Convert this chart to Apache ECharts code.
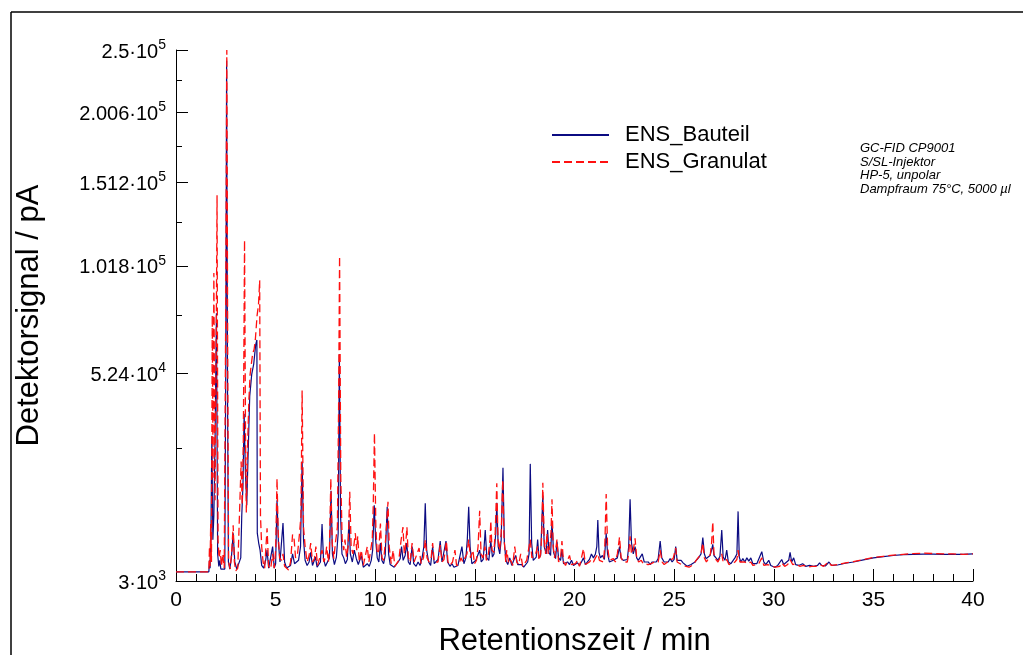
<!DOCTYPE html>
<html>
<head>
<meta charset="utf-8">
<script src="https://cdn.jsdelivr.net/npm/echarts@6/dist/echarts.min.js"></script>
<style>
html,body{margin:0;padding:0;background:#fff;}
#chart{width:1023px;height:655px;}
</style>
</head>
<body>
<div id="chart"></div>
<script>
// ---- data (time in min, signal in pA) ----
const seriesNames = ['ENS_Bauteil', 'ENS_Granulat'];

const bauteil = [
[0,3900],[1.65,3900],[1.68,5200],[1.71,4300],[1.75,8000],[1.8,31000],[1.85,8000],[1.9,12000],[1.96,30000],[2.03,78000],[2.09,6000],[2.15,4500],[2.2,5200],[2.25,4200],[2.35,4000],[2.45,4200],[2.5,60000],[2.54,241000],[2.59,40000],[2.63,5000],[2.7,4200],[2.78,5500],[2.87,9000],[2.95,5000],[3.05,4200],[3.15,4400],[3.25,5500],[3.3,12000],[3.36,18000],[3.42,38000],[3.48,22000],[3.55,14000],[3.62,26000],[3.7,44000],[3.8,52000],[3.9,56000],[4.0,64000],[4.06,66000],[4.08,9000],[4.15,7500],[4.22,6500],[4.3,4600],[4.4,4300],[4.5,5200],[4.57,6500],[4.65,4300],[4.75,4200],[4.85,7000],[4.93,4300],[5.0,4800],[5.07,15000],[5.14,7500],[5.22,5000],[5.3,4800],[5.37,10700],[5.45,5000],[5.55,4300],[5.65,4200],[5.75,4600],[5.85,6000],[5.95,4800],[6.05,4600],[6.15,5200],[6.25,7000],[6.33,24000],[6.4,8000],[6.48,5200],[6.58,4600],[6.68,5000],[6.76,6200],[6.85,4600],[6.95,4400],[7.0,5600],[7.08,4400],[7.18,4500],[7.25,5000],[7.33,10500],[7.4,5500],[7.5,4500],[7.6,4600],[7.7,5500],[7.78,17000],[7.85,6000],[7.95,4700],[8.05,5600],[8.14,9000],[8.2,60000],[8.26,12000],[8.33,6000],[8.42,5500],[8.5,4800],[8.6,5300],[8.68,11200],[8.75,6000],[8.85,5000],[8.95,6500],[9.05,5400],[9.15,4700],[9.3,5800],[9.4,4400],[9.5,4300],[9.6,4800],[9.7,4500],[9.8,5200],[9.87,6500],[9.95,14000],[10.02,8000],[10.1,5500],[10.18,5000],[10.26,7500],[10.33,5200],[10.42,4800],[10.5,5800],[10.6,13700],[10.67,6000],[10.75,4700],[10.85,4500],[10.95,4400],[11.05,4600],[11.15,5000],[11.25,5400],[11.32,7000],[11.4,5200],[11.5,5800],[11.58,7500],[11.66,5000],[11.75,4700],[11.85,7000],[11.93,4800],[12.05,4500],[12.15,5000],[12.25,4600],[12.35,5500],[12.44,7000],[12.51,14400],[12.58,6500],[12.68,5000],[12.78,4600],[12.88,7000],[12.96,4800],[13.05,4700],[13.15,5300],[13.26,7800],[13.35,5000],[13.45,5200],[13.55,7800],[13.63,5000],[13.75,4500],[13.85,4800],[13.95,4400],[14.05,4300],[14.15,4600],[14.25,4400],[14.35,7000],[14.45,4800],[14.55,5500],[14.62,8000],[14.69,13700],[14.76,7000],[14.85,4800],[14.95,4600],[15.05,5200],[15.15,5000],[15.24,6500],[15.32,5000],[15.42,5300],[15.52,9500],[15.6,5500],[15.7,5200],[15.8,7800],[15.88,5600],[15.96,6000],[16.05,9000],[16.1,14500],[16.17,7000],[16.25,6000],[16.32,8000],[16.41,22400],[16.48,7500],[16.56,5200],[16.65,4700],[16.75,5500],[16.85,4600],[16.95,5200],[17.05,5800],[17.15,4700],[17.25,4500],[17.35,4700],[17.45,4400],[17.55,4600],[17.65,5000],[17.72,6000],[17.78,23400],[17.85,7500],[17.93,5200],[18.0,5000],[18.08,5600],[18.15,8000],[18.22,5500],[18.3,5800],[18.41,16000],[18.48,7000],[18.58,6000],[18.65,9500],[18.72,6200],[18.8,5800],[18.87,11000],[18.95,6200],[19.05,5400],[19.12,7700],[19.2,5500],[19.3,5200],[19.37,6500],[19.45,4800],[19.55,4600],[19.65,5000],[19.75,4700],[19.85,5200],[19.95,4600],[20.05,4500],[20.15,4900],[20.25,4600],[20.35,5000],[20.45,5500],[20.55,4700],[20.65,5000],[20.75,5300],[20.85,6000],[20.95,5500],[21.05,6000],[21.12,7000],[21.17,11200],[21.23,6200],[21.3,5500],[21.4,5800],[21.5,5300],[21.59,9000],[21.66,6000],[21.75,5000],[21.85,4800],[21.95,5200],[22.05,5000],[22.15,5500],[22.26,7000],[22.33,5500],[22.45,5200],[22.55,5000],[22.65,5300],[22.72,7000],[22.79,15200],[22.86,7500],[22.95,6000],[23.04,7000],[23.12,5500],[23.2,5200],[23.3,5600],[23.4,6000],[23.5,5000],[23.6,4800],[23.7,5000],[23.8,4700],[23.9,5000],[24.0,5200],[24.1,5000],[24.2,5400],[24.3,7800],[24.38,5500],[24.5,5000],[24.6,4800],[24.7,5000],[24.8,5400],[24.9,5000],[25.0,5300],[25.08,7000],[25.15,5200],[25.25,5000],[25.35,5200],[25.45,4900],[25.55,4700],[25.65,4500],[25.75,4600],[25.85,4700],[25.95,4800],[26.05,5000],[26.15,5300],[26.25,5600],[26.35,6000],[26.44,8300],[26.52,6000],[26.6,5400],[26.7,5500],[26.8,5800],[26.88,6500],[26.94,7300],[27.0,5800],[27.1,5500],[27.2,5200],[27.3,5700],[27.39,9500],[27.46,5600],[27.55,5200],[27.64,6500],[27.72,5000],[27.85,4800],[27.95,5000],[28.05,5500],[28.15,6000],[28.21,12800],[28.27,5600],[28.35,5000],[28.45,5400],[28.55,5000],[28.65,5500],[28.75,5100],[28.85,5500],[28.95,4800],[29.05,4600],[29.15,4800],[29.25,5000],[29.4,6300],[29.5,5000],[29.6,4700],[29.75,5200],[29.85,4600],[29.95,4400],[30.05,4400],[30.2,4600],[30.4,5300],[30.5,4700],[30.6,4800],[30.75,5200],[30.82,6200],[30.9,5000],[31.0,5500],[31.1,4700],[31.25,4600],[31.45,4800],[31.6,4500],[31.8,4600],[32.0,4500],[32.2,4600],[32.3,4900],[32.4,4600],[32.6,4550],[32.77,5000],[32.9,4600],[33.2,4650],[33.6,4850],[34.0,5000],[34.5,5250],[35.0,5500],[35.5,5650],[36.0,5800],[36.5,5900],[37.0,5950],[37.5,5980],[38.0,5980],[38.5,5950],[39.0,5950],[39.5,5950],[40.0,6000]
];

const granulat = [
[0,3900],[1.65,3900],[1.68,7000],[1.71,4500],[1.74,10500],[1.78,5000],[1.82,77000],[1.86,20000],[1.9,98000],[1.96,15000],[2.0,40000],[2.06,143000],[2.11,8000],[2.16,5500],[2.22,6500],[2.28,4500],[2.35,6000],[2.42,4300],[2.49,70000],[2.55,250000],[2.6,50000],[2.64,5000],[2.72,4200],[2.8,6500],[2.87,10300],[2.93,5000],[3.0,4000],[3.1,4300],[3.2,4500],[3.27,24000],[3.32,14000],[3.38,30000],[3.44,116000],[3.49,30000],[3.53,12600],[3.6,30000],[3.66,43000],[3.72,52000],[3.78,56000],[3.85,60400],[3.92,62000],[3.98,66000],[4.07,77000],[4.14,82000],[4.2,94200],[4.24,12000],[4.3,7000],[4.37,5000],[4.45,4300],[4.57,9800],[4.65,4500],[4.75,4200],[4.85,6000],[4.93,4300],[5.0,6500],[5.07,19800],[5.13,9000],[5.2,5500],[5.3,5200],[5.37,6000],[5.45,4500],[5.55,4300],[5.65,4100],[5.75,5000],[5.85,8800],[5.93,8000],[6.0,5500],[6.1,6000],[6.2,9000],[6.27,12000],[6.33,46000],[6.4,10000],[6.48,7000],[6.58,5000],[6.68,5800],[6.76,7500],[6.85,5000],[6.95,5400],[7.02,7000],[7.1,4600],[7.2,4700],[7.33,6500],[7.42,5000],[7.5,5600],[7.56,7000],[7.65,5000],[7.7,6500],[7.77,19800],[7.84,7500],[7.92,5400],[8.0,7500],[8.1,10000],[8.16,40000],[8.21,107000],[8.27,20000],[8.34,8000],[8.42,6500],[8.48,8000],[8.56,5600],[8.64,7000],[8.72,16800],[8.79,7000],[8.88,6000],[9.0,9000],[9.07,6500],[9.12,8500],[9.2,5000],[9.3,6500],[9.4,4600],[9.5,4500],[9.6,7000],[9.68,5000],[9.78,5200],[9.85,8000],[9.9,14000],[9.96,32000],[10.03,10000],[10.1,6000],[10.18,6500],[10.26,10600],[10.34,5500],[10.42,5200],[10.52,8000],[10.64,14700],[10.7,7000],[10.8,4800],[10.9,6500],[10.98,4500],[11.08,4700],[11.18,5200],[11.3,8000],[11.39,10000],[11.46,6000],[11.52,7000],[11.59,10000],[11.66,5500],[11.75,5000],[11.85,7500],[11.95,5000],[12.05,4800],[12.2,6800],[12.3,4800],[12.42,5500],[12.51,8000],[12.6,5500],[12.7,5000],[12.8,5400],[12.88,7500],[12.96,5000],[13.05,5200],[13.15,5000],[13.26,7200],[13.35,5000],[13.45,5300],[13.57,7800],[13.65,5000],[13.75,4600],[13.88,5000],[14.0,6500],[14.08,4600],[14.2,4700],[14.3,5500],[14.4,5000],[14.5,4800],[14.6,6000],[14.69,8000],[14.78,5500],[14.9,6500],[14.98,4800],[15.08,5200],[15.16,7000],[15.24,12900],[15.31,6000],[15.4,5500],[15.5,7000],[15.58,5200],[15.68,6000],[15.76,8000],[15.8,11100],[15.86,6500],[15.95,6200],[16.02,9000],[16.1,18700],[16.16,8000],[16.24,6500],[16.32,9000],[16.4,19500],[16.46,8500],[16.55,5000],[16.6,6500],[16.7,4800],[16.8,5200],[16.9,4600],[17.0,7000],[17.1,5000],[17.2,4700],[17.3,6000],[17.4,4500],[17.5,4600],[17.6,5200],[17.7,5000],[17.78,8000],[17.86,5500],[17.95,5400],[18.05,6000],[18.15,7000],[18.22,5200],[18.3,6000],[18.36,9000],[18.41,18800],[18.48,8000],[18.55,6000],[18.62,9000],[18.68,6000],[18.76,7000],[18.82,9000],[18.87,15200],[18.93,7000],[19.0,5500],[19.12,8000],[19.2,5000],[19.3,5500],[19.37,7800],[19.45,5000],[19.55,4600],[19.65,4800],[19.75,5800],[19.85,4700],[19.95,4500],[20.05,4800],[20.15,5200],[20.25,4500],[20.35,5500],[20.45,6700],[20.55,4700],[20.65,4800],[20.75,5000],[20.85,5300],[20.95,5000],[21.05,5500],[21.17,6000],[21.25,5200],[21.35,5400],[21.45,5000],[21.52,7000],[21.59,16300],[21.66,7000],[21.75,5200],[21.85,5000],[21.95,5400],[22.05,5000],[22.15,6000],[22.26,8400],[22.34,5500],[22.45,5000],[22.55,5200],[22.65,5000],[22.72,6000],[22.79,8500],[22.86,6000],[22.95,6500],[23.04,8200],[23.12,5500],[23.22,5000],[23.35,5200],[23.45,4800],[23.55,5000],[23.7,4700],[23.85,4800],[24.0,5000],[24.1,4800],[24.2,5000],[24.3,6500],[24.4,5000],[24.5,4700],[24.62,4900],[24.75,5200],[24.85,5000],[24.95,5400],[25.08,6800],[25.15,5000],[25.3,4800],[25.45,4600],[25.6,4500],[25.75,4400],[25.9,4600],[26.05,5000],[26.2,5500],[26.35,6000],[26.44,7500],[26.52,5500],[26.62,5000],[26.72,5400],[26.82,6000],[26.88,7500],[26.94,10900],[27.0,6000],[27.1,5300],[27.2,5000],[27.3,5200],[27.39,6000],[27.46,5000],[27.55,4800],[27.64,5300],[27.75,4700],[27.9,4800],[28.05,5000],[28.15,5300],[28.21,6500],[28.3,5000],[28.4,4800],[28.55,5000],[28.7,4800],[28.85,5000],[28.95,4600],[29.1,4700],[29.25,4800],[29.4,5500],[29.5,4600],[29.7,4700],[29.9,4500],[30.1,4400],[30.3,4500],[30.4,4900],[30.55,4500],[30.7,4700],[30.82,5300],[30.95,4700],[31.1,4800],[31.3,4500],[31.5,4600],[31.7,4400],[31.9,4500],[32.1,4500],[32.3,4700],[32.5,4500],[32.74,5000],[32.9,4600],[33.2,4700],[33.6,4900],[34.0,5050],[34.5,5300],[35.0,5550],[35.5,5700],[36.0,5850],[36.5,5950],[37.0,6050],[37.5,6100],[38.0,6050],[38.5,6000],[39.0,6000],[39.5,5950],[40.0,6000]
];

// y axis (square-root scaled in the reference)
const yTickValues   = [3000, 52400, 101800, 151200, 200600, 250000];
const yTickMantissa = ['3', '5.24', '1.018', '1.512', '2.006', '2.5'];
const yTickExponent = ['3', '4', '5', '5', '5', '5'];
const yMinorValues  = [27700, 77100, 126500, 175900, 225300];

// x axis
const xMin = 0, xMax = 40, xStep = 5;

const xAxisTitle = 'Retentionszeit / min';
const yAxisTitle = 'Detektorsignal / pA';
const noteLines = ['GC-FID CP9001', 'S/SL-Injektor', 'HP-5, unpolar', 'Dampfraum 75°C, 5000 µl'];

// ---- chart ----
const F = '"Liberation Sans", Arial, Helvetica, sans-serif';
const tf = v => Math.sqrt(v);
const yMin = tf(yTickValues[0]);
const yMax = tf(yTickValues[yTickValues.length - 1]);

const chart = echarts.init(document.getElementById('chart'), null, {renderer: 'canvas'});

chart.setOption({
  animation: false,
  backgroundColor: '#ffffff',
  textStyle: {fontFamily: F, color: '#000'},
  grid: {left: 176, right: 50, top: 50, bottom: 74, containLabel: false, outerBoundsMode: 'none'},
  legend: {
    orient: 'vertical',
    left: 551,
    top: 124,
    padding: 0,
    itemWidth: 57,
    itemHeight: 14,
    itemGap: 5,
    itemStyle: {opacity: 0},
    data: seriesNames,
    textStyle: {fontFamily: F, fontSize: 22, color: '#000', lineHeight: 22, padding: [0, 0, 0, 11]}
  },
  xAxis: {
    type: 'value',
    min: xMin, max: xMax, interval: xStep,
    name: xAxisTitle,
    nameLocation: 'middle',
    nameGap: 45,
    nameTextStyle: {fontFamily: F, fontSize: 31, color: '#000'},
    axisLine: {show: true, onZero: false, lineStyle: {color: '#000', width: 1}},
    axisTick: {show: true, inside: true, length: 12, lineStyle: {color: '#000', width: 1}},
    minorTick: {show: true, splitNumber: 5, length: 7, lineStyle: {color: '#000', width: 1}},
    axisLabel: {fontFamily: F, fontSize: 21, color: '#000', margin: 9},
    splitLine: {show: false},
    minorSplitLine: {show: false}
  },
  yAxis: [{
    type: 'value',
    min: yMin, max: yMax,
    name: yAxisTitle,
    nameLocation: 'middle',
    nameGap: 131,
    nameRotate: 90,
    nameTextStyle: {fontFamily: F, fontSize: 31, color: '#000'},
    axisLine: {show: true, onZero: false, lineStyle: {color: '#000', width: 1}},
    axisTick: {show: true, inside: true, length: 12, customValues: yTickValues.map(tf), lineStyle: {color: '#000', width: 1}},
    axisLabel: {
      show: true,
      margin: 10,
      customValues: yTickValues.map(tf),
      formatter: function (val) {
        let idx = 0, best = Infinity;
        yTickValues.forEach((v, i) => { const d = Math.abs(tf(v) - val); if (d < best) { best = d; idx = i; } });
        return '{m|' + yTickMantissa[idx] + '·10}{s|' + yTickExponent[idx] + '}';
      },
      rich: {
        m: {fontFamily: F, fontSize: 20, color: '#000', lineHeight: 24, verticalAlign: 'bottom'},
        s: {fontFamily: F, fontSize: 14, color: '#000', lineHeight: 14, verticalAlign: 'top'}
      }
    },
    splitLine: {show: false}
  }, {
    type: 'value',
    min: yMin, max: yMax,
    position: 'left',
    axisLine: {show: false},
    axisTick: {show: true, inside: true, length: 6, customValues: yMinorValues.map(tf), lineStyle: {color: '#000', width: 1}},
    axisLabel: {show: false},
    splitLine: {show: false}
  }],
  series: [{
    name: seriesNames[0],
    type: 'line',
    yAxisIndex: 0,
    symbol: 'none',
    showSymbol: false,
    clip: true,
    lineStyle: {color: '#0b0b82', width: 1.2},
    itemStyle: {color: '#0b0b82'},
    data: bauteil.map(p => [p[0], tf(p[1])])
  }, {
    name: seriesNames[1],
    type: 'line',
    yAxisIndex: 0,
    symbol: 'none',
    showSymbol: false,
    clip: true,
    lineStyle: {color: '#ff1010', width: 1.3, type: [8, 4]},
    itemStyle: {color: '#ff1010'},
    data: granulat.map(p => [p[0], tf(p[1])])
  }],
  graphic: [
    {type: 'line', shape: {x1: 11, y1: 12, x2: 11, y2: 655}, style: {stroke: '#000', lineWidth: 1.5}},
    {type: 'line', shape: {x1: 11, y1: 12, x2: 1023, y2: 12}, style: {stroke: '#000', lineWidth: 1.5}},
    {
      type: 'text', left: 860, top: 142,
      style: {
        text: noteLines.join('\n'),
        font: 'italic 13px ' + F,
        fill: '#000',
        lineHeight: 13.4
      }
    }
  ]
});
</script>
</body>
</html>
